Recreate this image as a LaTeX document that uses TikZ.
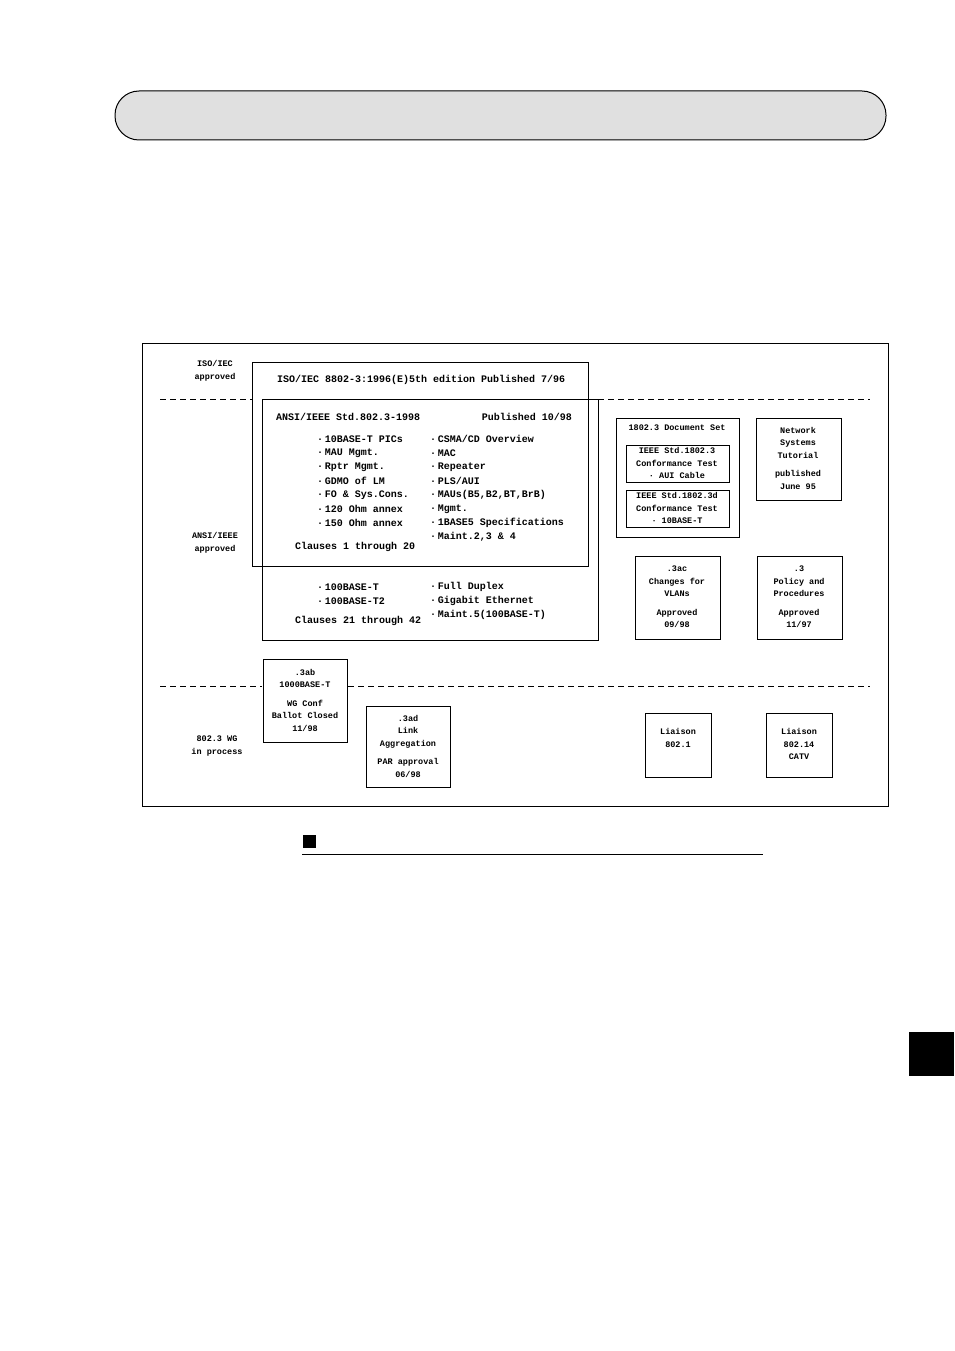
\documentclass[tikz,border=0pt]{standalone}
\usepackage{fontspec}
\setmainfont{Liberation Mono}
\begin{document}
\begin{tikzpicture}[x=1pt,y=-1pt,
  bx/.style={draw,line width=1pt},
  dl/.style={line width=1pt,dash pattern=on 6pt off 4pt},
  t/.style={font=\bfseries\fontsize{10}{12}\selectfont,anchor=west,inner sep=0pt},
  sm/.style={font=\bfseries\fontsize{8.5}{12.5}\selectfont,align=center,inner sep=0pt}]
\useasboundingbox (0,0) rectangle (954,1351);
\draw[line width=1pt,fill=black!12,rounded corners=24pt] (115,91) rectangle (886,140);
\draw[bx] (142,343) rectangle (888,806);
\draw[dl] (160,399) -- (252,399); \draw[dl] (598,399) -- (870,399);
\draw[dl] (160,686) -- (262,686); \draw[dl] (348,686) -- (870,686);
\draw[bx] (252,362) rectangle (588,566);
\draw[bx] (262,399) rectangle (598,640);
\node[sm] (l1) at (215,371) {ISO/IEC\\approved};
\node[sm] (l2) at (215,543) {ANSI/IEEE\\approved};
\node[sm] (l3) at (217,746) {802.3 WG\\in process};
\node[t] (iso) at (277,380) {ISO/IEC 8802-3:1996(E)5th edition Published 7/96};
\node[t] (an) at (276,417) {ANSI/IEEE Std.802.3-1998};
\node[t,anchor=east] (pub) at (572,417) {Published 10/98};
\foreach \s [count=\i] in {10BASE-T PICs,MAU Mgmt.,Rptr Mgmt.,GDMO of LM,FO \& Sys.Cons.,120 Ohm annex,150 Ohm annex}
  \node[t] (a\i) at (317,425+14*\i) {·\,\s};
\foreach \s [count=\i] in {CSMA/CD Overview,MAC,Repeater,PLS/AUI,{MAUs(B5,B2,BT,BrB)},Mgmt.,1BASE5 Specifications,{Maint.2,3 \& 4}}
  \node[t] (b\i) at (430,425+14*\i) {·\,\s};
\node[t] (c1) at (295,547) {Clauses 1 through 20};
\node[t] (d1) at (317,587) {·\,100BASE-T};
\node[t] (d2) at (317,601) {·\,100BASE-T2};
\node[t] (c2) at (295,621) {Clauses 21 through 42};
\node[t] (e1) at (430,587) {·\,Full Duplex};
\node[t] (e2) at (430,601) {·\,Gigabit Ethernet};
\node[t] (e3) at (430,615) {·\,Maint.5(100BASE-T)};
\draw[bx] (616,418) rectangle (739,537);
\node[sm] (ds) at (677,428) {1802.3 Document Set};
\draw[bx] (626,445) rectangle (729,482);
\node[sm] (ds1) at (677,463) {IEEE Std.1802.3\\Conformance Test\\· AUI Cable};
\draw[bx] (626,490) rectangle (729,527);
\node[sm] (ds2) at (677,508) {IEEE Std.1802.3d\\Conformance Test\\· 10BASE-T};
\draw[bx] (756,418) rectangle (841,500);
\node[sm] (nw) at (798,458) {Network\\Systems\\Tutorial\\[6pt]published\\June 95};
\draw[bx] (635,556) rectangle (720,639);
\node[sm] (ac) at (677,597) {.3ac\\Changes for\\VLANs\\[6pt]Approved\\09/98};
\draw[bx] (757,556) rectangle (842,639);
\node[sm] (p3) at (799,597) {.3\\Policy and\\Procedures\\[6pt]Approved\\11/97};
\draw[bx,fill=white] (263,659) rectangle (347,742);
\node[sm] (ab) at (305,700) {.3ab\\1000BASE-T\\[6pt]WG Conf\\Ballot Closed\\11/98};
\draw[bx] (366,706) rectangle (450,787);
\node[sm] (ad) at (408,746) {.3ad\\Link\\Aggregation\\[6pt]PAR approval\\06/98};
\draw[bx] (645,713) rectangle (711,777);
\node[sm] (li1) at (678,738) {Liaison\\802.1};
\draw[bx] (766,713) rectangle (832,777);
\node[sm] (li2) at (799,744) {Liaison\\802.14\\CATV};
\fill (303,835) rectangle (316,848);
\draw[line width=0.8pt] (302,854) -- (763,854);
\fill (909,1032) rectangle (954,1076);
\end{tikzpicture}
\end{document}
